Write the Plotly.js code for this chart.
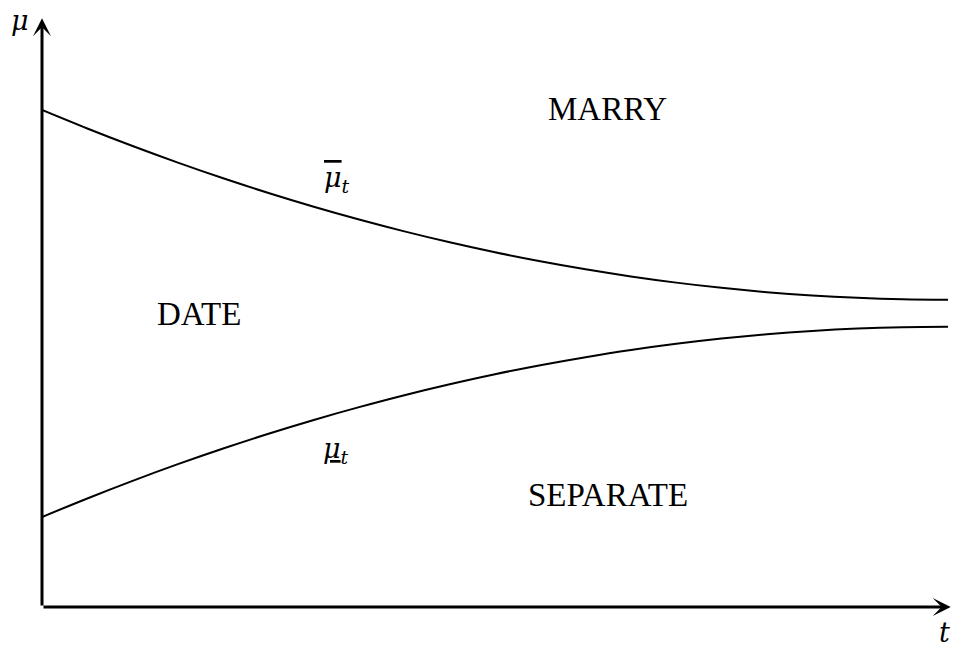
<!DOCTYPE html>
<html>
<head>
<meta charset="utf-8">
<script src="https://cdn.plot.ly/plotly-3.0.1.min.js"></script>
<style>
  html, body { margin: 0; padding: 0; background: #ffffff; }
  #chart { width: 955px; height: 645px; }
</style>
</head>
<body>
<div id="chart"></div>
<script>
// Time grid and the two thresholds on belief mu
const t = [0, 0.5, 1, 1.5, 2, 2.5, 3, 3.5, 4, 4.5, 5, 5.5, 6, 6.5, 7, 7.5, 8, 8.5, 9, 9.5, 10];
const upperThreshold = [8.467, 8.152, 7.853, 7.570, 7.303, 7.053, 6.819, 6.601, 6.399, 6.213, 6.043,
                        5.889, 5.752, 5.631, 5.526, 5.437, 5.364, 5.308, 5.268, 5.243, 5.235];
const lowerThreshold = [1.533, 1.849, 2.149, 2.433, 2.700, 2.952, 3.187, 3.405, 3.608, 3.794, 3.965,
                        4.119, 4.256, 4.378, 4.483, 4.573, 4.646, 4.702, 4.743, 4.767, 4.775];
const regionNames = ['MARRY', 'DATE', 'SEPARATE'];

const serif = 'Liberation Serif';
const mathSerif = 'DejaVu Serif';

const curveStyle = { color: '#000000', width: 2, shape: 'spline', smoothing: 1 };

const traces = [
  { x: t, y: upperThreshold, mode: 'lines', line: curveStyle, hoverinfo: 'skip', showlegend: false },
  { x: t, y: lowerThreshold, mode: 'lines', line: curveStyle, hoverinfo: 'skip', showlegend: false }
];

function axisArrow(xTip, yTip) {
  return {
    x: xTip, y: yTip, ax: 0, ay: 0,
    xref: 'x', yref: 'y', axref: 'x', ayref: 'y',
    text: '', showarrow: true,
    arrowhead: 3, arrowsize: 1, arrowwidth: 3, arrowcolor: '#000000'
  };
}

function label(text, x, y, size, family) {
  return {
    x: x, y: y, xref: 'x', yref: 'y', text: text, showarrow: false,
    font: { family: family, size: size, color: '#000000' },
    xanchor: 'center', yanchor: 'middle'
  };
}

const annotations = [
  axisArrow(10.03, 0),
  axisArrow(0, 10.03),
  label(regionNames[0], 6.24, 8.48, 33, serif),
  label(regionNames[1], 1.73, 4.99, 33, serif),
  label(regionNames[2], 6.25, 1.91, 33, serif),
  label('<i><span style="text-decoration:overline">μ</span><sub>t</sub></i>', 3.26, 7.28, 27, mathSerif),
  label('<i><span style="text-decoration:underline">μ</span><sub>t</sub></i>', 3.25, 2.66, 27, mathSerif),
  {
    x: -0.024, y: 1.0, xref: 'paper', yref: 'paper', text: '<i>μ</i>', showarrow: false,
    font: { family: mathSerif, size: 27, color: '#000000' }, xanchor: 'center', yanchor: 'middle'
  },
  {
    x: 0.996, y: -0.044, xref: 'paper', yref: 'paper', text: '<i>t</i>', showarrow: false,
    font: { family: mathSerif, size: 27, color: '#000000' }, xanchor: 'center', yanchor: 'middle'
  }
];

const hiddenAxis = {
  range: [0, 10], showgrid: false, zeroline: false, showline: false,
  showticklabels: false, ticks: '', fixedrange: true
};

const layout = {
  width: 955, height: 645,
  margin: { l: 42, r: 7, t: 20, b: 38 },
  paper_bgcolor: '#ffffff', plot_bgcolor: '#ffffff',
  xaxis: Object.assign({}, hiddenAxis),
  yaxis: Object.assign({}, hiddenAxis),
  annotations: annotations,
  showlegend: false
};

Plotly.newPlot('chart', traces, layout, { displayModeBar: false, staticPlot: true });
</script>
</body>
</html>
